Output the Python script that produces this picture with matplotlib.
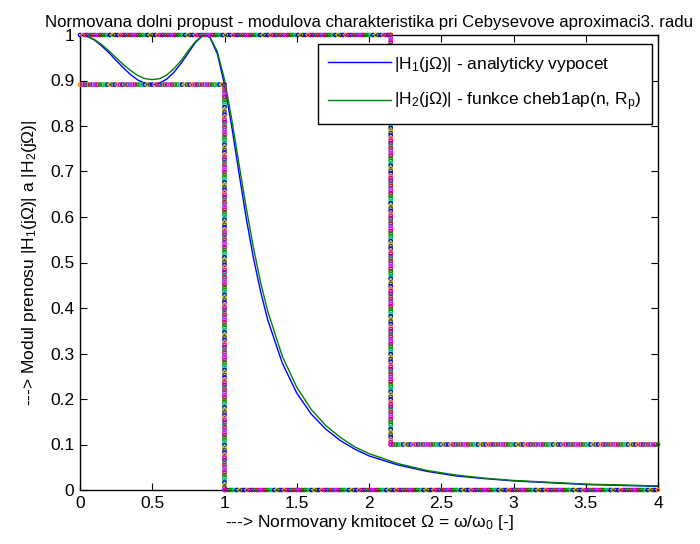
import matplotlib
matplotlib.use("Agg")
import matplotlib.pyplot as plt
import numpy as np

plt.rcParams["font.family"] = ["Liberation Sans", "DejaVu Sans"]
plt.rcParams["mathtext.fontset"] = "custom"
plt.rcParams["mathtext.rm"] = "Liberation Sans"
plt.rcParams["mathtext.it"] = "Liberation Sans:italic"
plt.rcParams["mathtext.default"] = "regular"

# normalized frequency and magnitudes
omega = [0.0, 0.05, 0.1, 0.15, 0.2, 0.25, 0.3, 0.35, 0.4, 0.45, 0.5, 0.55, 0.6,
         0.65, 0.7, 0.75, 0.8, 0.85, 0.866, 0.9, 0.95, 1.0, 1.05, 1.1, 1.15, 1.2,
         1.25, 1.3, 1.4, 1.5, 1.6, 1.7, 1.8, 1.9, 2.0, 2.2, 2.4, 2.6, 2.8, 3.0,
         3.5, 4.0]
h1 = [1.0, 0.997, 0.989, 0.976, 0.961, 0.944, 0.928, 0.913, 0.901, 0.894, 0.891,
      0.894, 0.903, 0.918, 0.938, 0.961, 0.984, 0.999, 1.0, 0.994, 0.959, 0.891,
      0.799, 0.697, 0.598, 0.510, 0.436, 0.373, 0.279, 0.213, 0.167, 0.134, 0.109,
      0.090, 0.075, 0.055, 0.041, 0.031, 0.025, 0.020, 0.012, 0.008]
h2 = [1.0, 0.997, 0.990, 0.979, 0.965, 0.950, 0.935, 0.922, 0.911, 0.904, 0.902,
      0.904, 0.912, 0.926, 0.944, 0.966, 0.986, 0.999, 1.0, 0.995, 0.964, 0.902,
      0.815, 0.717, 0.621, 0.533, 0.456, 0.392, 0.294, 0.226, 0.177, 0.142, 0.116,
      0.095, 0.080, 0.058, 0.043, 0.033, 0.026, 0.021, 0.013, 0.009]

# tolerance scheme
omega_p = 1.0
omega_s = 2.15
omega_max = 4.0
ripple_level = 0.891
stop_level = 0.1

dot_colors = ["#0000ff", "#bfbf00", "#00bfbf", "#008000", "#ff00ff", "#ff0000",
              "#7f007f", "#ff8000", "#404040", "#00007f", "#00a000", "#bf0040",
              "#4040ff", "#008080", "#c000c0"]

segments = [
    ((0.0, 1.0), (omega_s, 1.0)),
    ((omega_s, 1.0), (omega_s, stop_level)),
    ((omega_s, stop_level), (omega_max, stop_level)),
    ((0.0, ripple_level), (omega_p, ripple_level)),
    ((omega_p, ripple_level), (omega_p, 0.0)),
    ((omega_p, 0.0), (omega_max, 0.0)),
]

fs = 12.5

fig = plt.figure(figsize=(7, 5.44), dpi=100)
ax = fig.add_axes([80 / 700, 54 / 544, 578 / 700, 455 / 544])

ax.plot(omega, h1, color="#0000ff", lw=1.0, label=r"|H$_1$(jΩ)| - analyticky vypocet")
ax.plot(omega, h2, color="#008000", lw=1.0, label=r"|H$_2$(jΩ)| - funkce cheb1ap(n, R$_p$)")

# dotted boundary, one colour per dot, about 2.5 px apart
k = 0
for (x0, y0), (x1, y1) in segments:
    n = int(max(abs(x1 - x0) * 145, abs(y1 - y0) * 455) / 2.5) + 1
    xs = np.linspace(x0, x1, n)
    ys = np.linspace(y0, y1, n)
    cols = [dot_colors[(k + i * 7) % len(dot_colors)] for i in range(n)]
    k += n
    ax.scatter(xs, ys, s=6, facecolors="none", edgecolors=cols, linewidths=0.9,
               clip_on=False, zorder=3)

ax.set_xlim(0, 4)
ax.set_ylim(0, 1)
ax.set_xticks(np.arange(0, 4.01, 0.5))
ax.set_xticklabels(["0", "0.5", "1", "1.5", "2", "2.5", "3", "3.5", "4"])
ax.set_yticks(np.arange(0, 1.01, 0.1))
ax.set_yticklabels(["0", "0.1", "0.2", "0.3", "0.4", "0.5", "0.6", "0.7", "0.8", "0.9", "1"])
ax.tick_params(direction="in", length=5, width=0.8, top=True, right=True,
               labelsize=fs, pad=4, colors="black")
for sp in ax.spines.values():
    sp.set_linewidth(1.0)

ax.set_title("Normovana dolni propust - modulova charakteristika pri Cebysevove aproximaci3. radu",
             fontsize=12.1, pad=6)
ax.set_xlabel(r"---> Normovany kmitocet Ω = ω/ω$_0$ [-]", fontsize=fs, labelpad=2)
ax.set_ylabel(r"---> Modul prenosu |H$_1$(jΩ)| a |H$_2$(jΩ)|", fontsize=fs, labelpad=8)

leg = ax.legend(loc="upper right", bbox_to_anchor=(0.9896, 0.980), borderaxespad=0,
                fontsize=fs, frameon=True, fancybox=False, edgecolor="black",
                framealpha=1, handlelength=3.6, handletextpad=0.2, labelspacing=1.0,
                borderpad=0.6)
leg.get_frame().set_linewidth(1.0)

fig.savefig("out.png", dpi=100)
